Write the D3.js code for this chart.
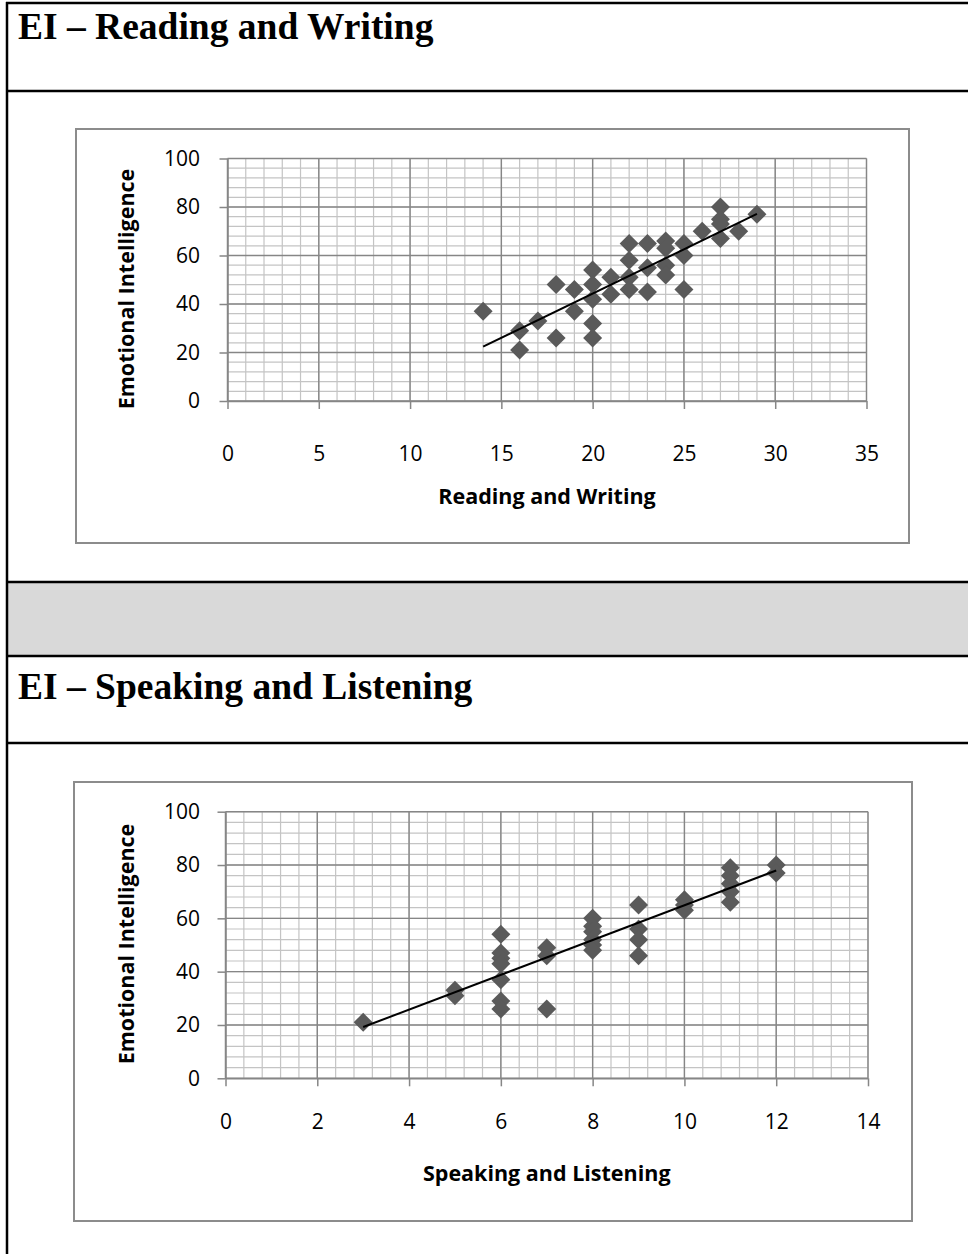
<!DOCTYPE html>
<html>
<head>
<meta charset="utf-8">
<script src="https://cdn.jsdelivr.net/npm/d3@7"></script>
<style>
  body { margin: 0; background: #fff; }
  .tick text, .axis-title { font-family: "Open Sans", sans-serif; fill: #000; }
  .section-title { font-family: "Liberation Serif", "Times New Roman", serif; font-weight: bold; }
</style>
</head>
<body>
<div id="page"></div>
<script>
// EI vs Reading and Writing
const rwScore = [14, 16, 16, 17, 18, 18, 19, 19, 20, 20, 20, 20, 20, 21, 21, 22, 22, 22, 22,
                 23, 23, 23, 24, 24, 24, 24, 25, 25, 25, 26, 27, 27, 27, 27, 28, 29];
const rwEI    = [37, 29, 21, 33, 48, 26, 46, 37, 54, 48, 42, 32, 26, 51, 44, 65, 58, 51, 46,
                 65, 55, 45, 66, 63, 56, 52, 65, 60, 46, 70, 80, 75, 73, 67, 70, 77];

// EI vs Speaking and Listening
const slScore = [3, 5, 5, 6, 6, 6, 6, 6, 6, 6, 7, 7, 7, 8, 8, 8, 8, 8, 8,
                 9, 9, 9, 9, 10, 10, 10, 11, 11, 11, 11, 11, 12, 12];
const slEI    = [21, 33, 31, 54, 47, 45, 43, 37, 29, 26, 49, 46, 26, 60, 57, 55, 52, 50, 48,
                 65, 56, 52, 46, 67, 65, 63, 79, 76, 73, 70, 66, 80, 77];

const eiTicks = [0, 20, 40, 60, 80, 100];
const rwTicks = [0, 5, 10, 15, 20, 25, 30, 35];
const slTicks = [0, 2, 4, 6, 8, 10, 12, 14];

const width = 968;
const height = 1254;

const svg = d3.select('#page')
    .append('svg')
    .attr('width', width)
    .attr('height', height);

// table around the two charts
const tableLeft = 7;
svg.append('rect')
    .attr('x', tableLeft)
    .attr('y', 582)
    .attr('width', width - tableLeft)
    .attr('height', 74)
    .attr('fill', '#d9d9d9');

[3, 91, 582, 656, 743].forEach(y => {
    svg.append('line')
        .attr('x1', tableLeft - 1).attr('x2', width)
        .attr('y1', y).attr('y2', y)
        .attr('stroke', '#000')
        .attr('stroke-width', 2.5);
});
svg.append('line')
    .attr('x1', tableLeft).attr('x2', tableLeft)
    .attr('y1', 2).attr('y2', height)
    .attr('stroke', '#000')
    .attr('stroke-width', 2.5);

svg.append('text')
    .attr('class', 'section-title')
    .attr('x', 18).attr('y', 39)
    .style('font-size', '37.5px')
    .text('EI \u2013 Reading and Writing');

svg.append('text')
    .attr('class', 'section-title')
    .attr('x', 18).attr('y', 699)
    .style('font-size', '37.5px')
    .text('EI \u2013 Speaking and Listening');

function drawChart(cfg) {
    const g = svg.append('g');

    g.append('rect')
        .attr('x', cfg.box[0]).attr('y', cfg.box[1])
        .attr('width', cfg.box[2] - cfg.box[0])
        .attr('height', cfg.box[3] - cfg.box[1])
        .attr('fill', '#fff')
        .attr('stroke', '#8c8c8c')
        .attr('stroke-width', 2);

    const x = d3.scaleLinear()
        .domain([cfg.xTicks[0], cfg.xTicks[cfg.xTicks.length - 1]])
        .range([cfg.plot.left, cfg.plot.right]);
    const y = d3.scaleLinear()
        .domain([eiTicks[0], eiTicks[eiTicks.length - 1]])
        .range([cfg.plot.bottom, cfg.plot.top]);

    const xMinor = d3.range(x.domain()[0], x.domain()[1] + 1e-6, cfg.xMinorStep);
    const yMinor = d3.range(0, 100 + 1e-6, 4);

    // minor grid
    g.append('g').selectAll('line').data(xMinor).join('line')
        .attr('x1', d => x(d)).attr('x2', d => x(d))
        .attr('y1', cfg.plot.top).attr('y2', cfg.plot.bottom)
        .attr('stroke', '#c4c4c4').attr('stroke-width', 1.2);
    g.append('g').selectAll('line').data(yMinor).join('line')
        .attr('x1', cfg.plot.left).attr('x2', cfg.plot.right)
        .attr('y1', d => y(d)).attr('y2', d => y(d))
        .attr('stroke', '#c4c4c4').attr('stroke-width', 1.2);

    // major grid
    g.append('g').selectAll('line').data(cfg.xTicks).join('line')
        .attr('x1', d => x(d)).attr('x2', d => x(d))
        .attr('y1', cfg.plot.top).attr('y2', cfg.plot.bottom)
        .attr('stroke', '#868686').attr('stroke-width', 1.4);
    g.append('g').selectAll('line').data(eiTicks).join('line')
        .attr('x1', cfg.plot.left).attr('x2', cfg.plot.right)
        .attr('y1', d => y(d)).attr('y2', d => y(d))
        .attr('stroke', '#868686').attr('stroke-width', 1.4);

    // axes
    const xAxis = g.append('g')
        .attr('transform', `translate(0,${cfg.plot.bottom})`)
        .call(d3.axisBottom(x).tickValues(cfg.xTicks).tickSize(8).tickSizeOuter(0));
    xAxis.selectAll('text')
        .attr('dy', null)
        .attr('y', cfg.xLabelOffset)
        .style('font-size', '21px');

    const yAxis = g.append('g')
        .attr('transform', `translate(${cfg.plot.left},0)`)
        .call(d3.axisLeft(y).tickValues(eiTicks).tickSize(8).tickSizeOuter(0)
            .tickPadding(cfg.plot.left - 200 - 8));
    yAxis.selectAll('text').style('font-size', '21px');

    [xAxis, yAxis].forEach(a => {
        a.select('.domain').attr('stroke', '#868686').attr('stroke-width', 1.5);
        a.selectAll('.tick line').attr('stroke', '#868686').attr('stroke-width', 1.5);
    });

    // axis titles
    g.append('text')
        .attr('class', 'axis-title')
        .attr('x', (cfg.plot.left + cfg.plot.right) / 2)
        .attr('y', cfg.plot.bottom + 103)
        .attr('text-anchor', 'middle')
        .style('font-size', '21.5px')
        .style('font-weight', 'bold')
        .text(cfg.xTitle);

    g.append('text')
        .attr('class', 'axis-title')
        .attr('transform', `translate(134,${cfg.yTitleCenter}) rotate(-90)`)
        .attr('text-anchor', 'middle')
        .style('font-size', '21.5px')
        .style('font-weight', 'bold')
        .text('Emotional Intelligence');

    // points
    const pts = cfg.xs.map((v, i) => [v, cfg.ys[i]]);
    const r = 9.5;
    g.append('g').selectAll('path').data(pts).join('path')
        .attr('d', `M0,${-r}L${r},0L0,${r}L${-r},0Z`)
        .attr('transform', d => `translate(${x(d[0])},${y(d[1])})`)
        .attr('fill', '#5a5a5a');

    // linear trendline (least squares)
    const mx = d3.mean(cfg.xs), my = d3.mean(cfg.ys);
    const sxy = d3.sum(cfg.xs, (v, i) => (v - mx) * (cfg.ys[i] - my));
    const sxx = d3.sum(cfg.xs, v => (v - mx) * (v - mx));
    const slope = sxy / sxx;
    const intercept = my - slope * mx;
    const [x0, x1] = d3.extent(cfg.xs);
    g.append('line')
        .attr('x1', x(x0)).attr('y1', y(intercept + slope * x0))
        .attr('x2', x(x1)).attr('y2', y(intercept + slope * x1))
        .attr('stroke', '#000')
        .attr('stroke-width', 2);
}

drawChart({
    box: [76, 129, 909, 543],
    plot: { left: 227.5, right: 866.5, top: 158.5, bottom: 401 },
    xTicks: rwTicks,
    xMinorStep: 1,
    xs: rwScore,
    ys: rwEI,
    xTitle: 'Reading and Writing',
    xLabelOffset: 60,
    yTitleCenter: 289
});

drawChart({
    box: [74, 782, 912, 1221],
    plot: { left: 225.5, right: 868, top: 811.7, bottom: 1078.3 },
    xTicks: slTicks,
    xMinorStep: 0.4,
    xs: slScore,
    ys: slEI,
    xTitle: 'Speaking and Listening',
    xLabelOffset: 51,
    yTitleCenter: 944
});
</script>
</body>
</html>
